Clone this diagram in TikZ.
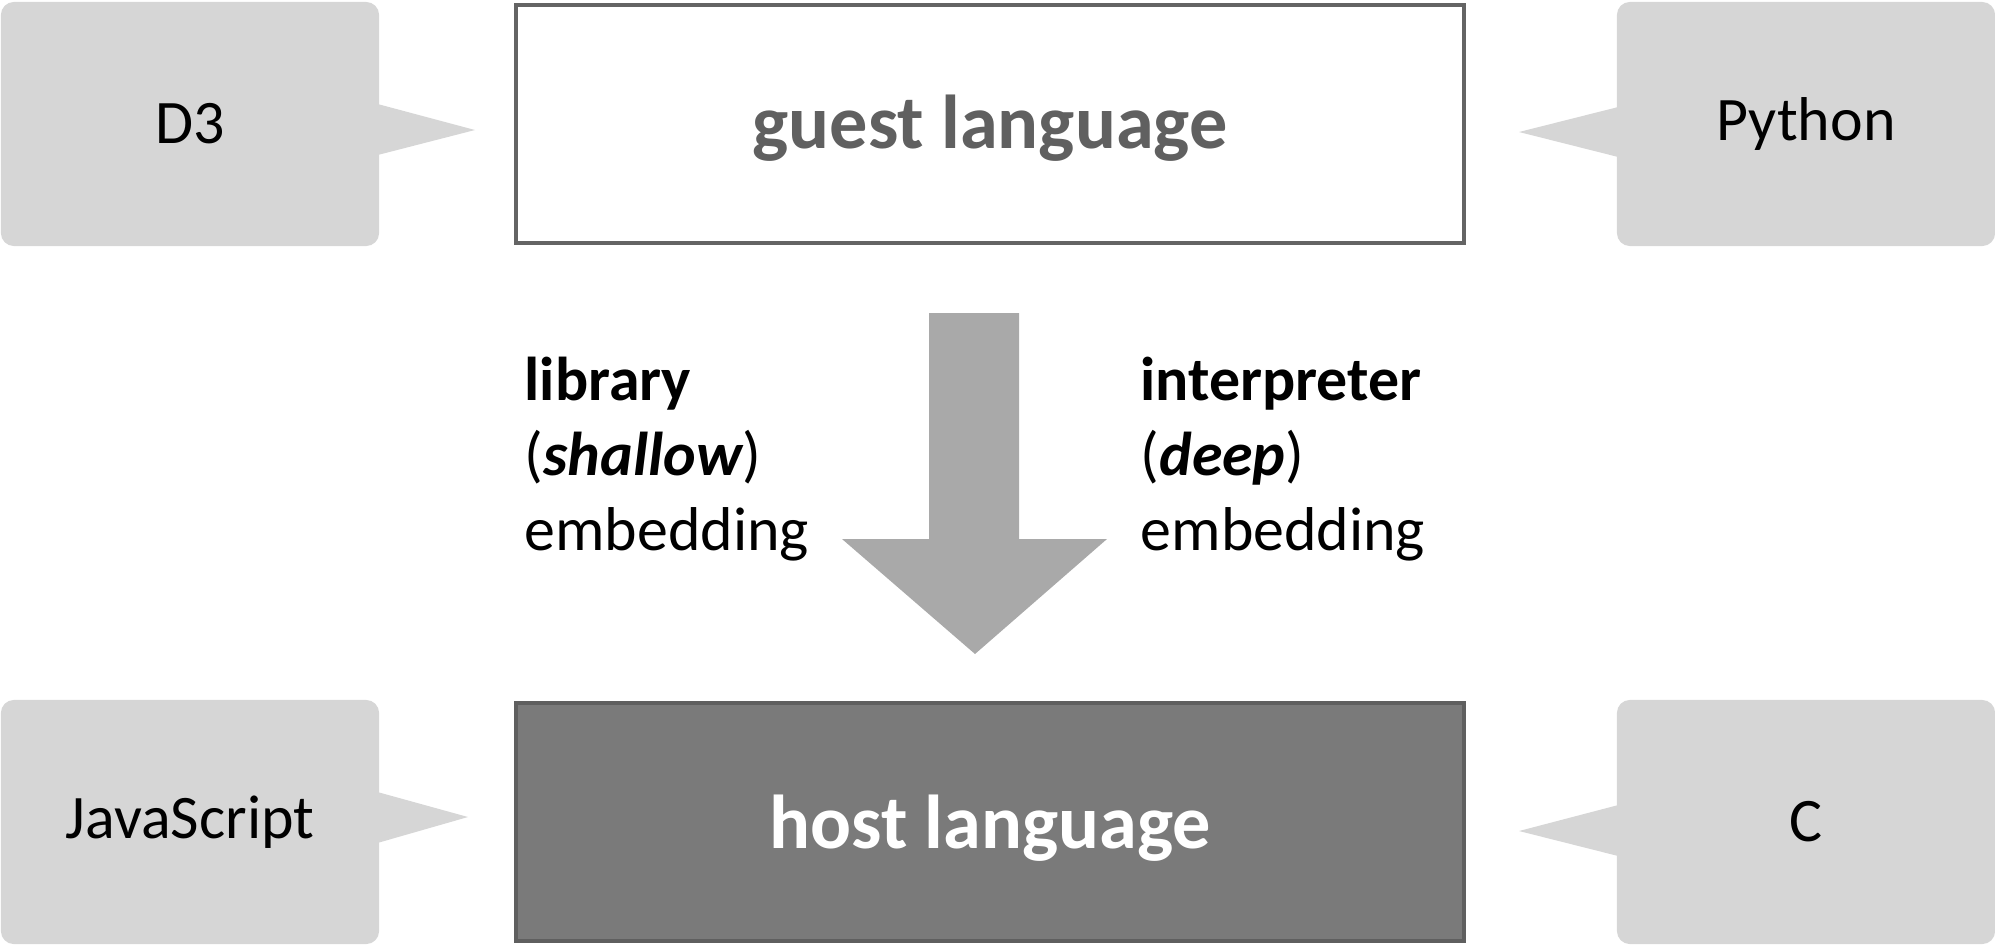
\documentclass[tikz,border=0pt]{standalone}
\usepackage{fontspec}
\setmainfont{Carlito}
\definecolor{callgray}{RGB}{214,214,214}
\definecolor{arrowgray}{RGB}{169,169,169}
\definecolor{guestline}{RGB}{100,100,100}
\definecolor{guesttext}{RGB}{96,96,96}
\definecolor{hostfill}{RGB}{122,122,122}
\definecolor{hostline}{RGB}{95,95,95}
\begin{document}
\begin{tikzpicture}[x=0.01cm,y=-0.01cm,
  callout/.style={fill=callgray, rounded corners=0.13cm, minimum width=3.78cm, minimum height=2.44cm, inner sep=0pt, font=\fontsize{17.6}{21}\selectfont},
  pointer/.style={fill=callgray},
  langbox/.style={minimum width=9.48cm, minimum height=2.38cm, line width=1.1pt, inner sep=0pt, font=\bfseries\fontsize{21.7}{26}\selectfont},
  note/.style={anchor=base west, inner sep=0pt, font=\fontsize{17.6}{21}\selectfont},
  bigarrow/.style={fill=arrowgray}]
\useasboundingbox (0,0) rectangle (1995,945);
% callouts
\node[callout] (d3) at (190,124) {D3};
\node[callout] (py) at (1806,124) {Python};
\node[callout] (js) at (190,822) {JavaScript};
\node[callout] (c) at (1806,822) {C};
% language boxes
\node[langbox, draw=guestline, fill=white, text=guesttext] (guest) at (990,124) {\raisebox{-0.04cm}[\height][\depth]{guest language}};
\node[langbox, draw=hostline, fill=hostfill, text=white] (host) at (990,822) {\raisebox{-0.06cm}[\height][\depth]{host language}};
% pointer tips
\coordinate (d3tip) at (475,130);
\coordinate (pytip) at (1519,132);
\coordinate (jstip) at (468,817);
\coordinate (ctip) at (1519,831);
\fill[pointer] ([xshift=-0.06cm,yshift=0.27cm]d3tip -| d3.east) -- (d3tip) -- ([xshift=-0.06cm,yshift=-0.26cm]d3tip -| d3.east) -- cycle;
\fill[pointer] ([xshift=0.06cm,yshift=0.26cm]pytip -| py.west) -- (pytip) -- ([xshift=0.06cm,yshift=-0.26cm]pytip -| py.west) -- cycle;
\fill[pointer] ([xshift=-0.06cm,yshift=0.26cm]jstip -| js.east) -- (jstip) -- ([xshift=-0.06cm,yshift=-0.27cm]jstip -| js.east) -- cycle;
\fill[pointer] ([xshift=0.06cm,yshift=0.27cm]ctip -| c.west) -- (ctip) -- ([xshift=0.06cm,yshift=-0.26cm]ctip -| c.west) -- cycle;
% big arrow
\fill[bigarrow] (929,313) -- (1019,313) -- (1019,539) -- (1107,539) -- (975,654) -- (842,539) -- (929,539) -- cycle;
% labels
\node[note] (lib1) at (524,400) {\bfseries library};
\node[note] (lib2) at (524,475) {({\bfseries\itshape shallow})};
\node[note] (lib3) at (524,550) {embedding};
\node[note] (int1) at (1140,400) {\bfseries interpreter};
\node[note] (int2) at (1140,475) {({\bfseries\itshape deep})};
\node[note] (int3) at (1140,550) {embedding};
\end{tikzpicture}
\end{document}
